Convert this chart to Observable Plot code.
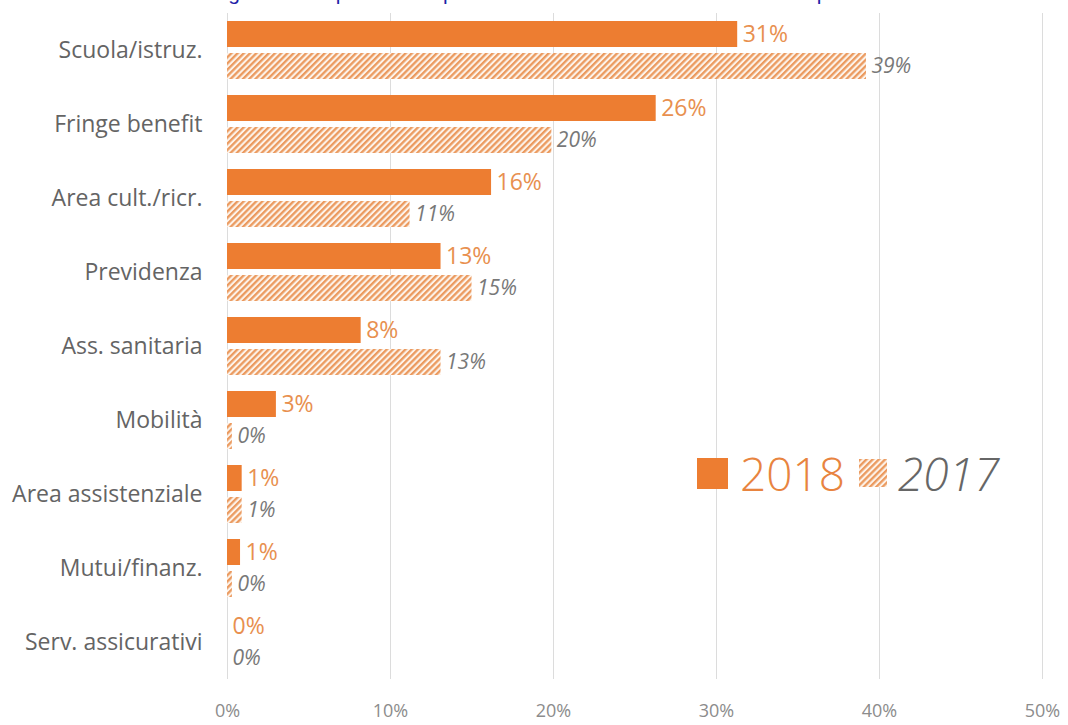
<!DOCTYPE html>
<html><head><meta charset="utf-8">
<script src="https://cdn.jsdelivr.net/npm/d3@7"></script>
<script src="https://cdn.jsdelivr.net/npm/@observablehq/plot@0.6"></script>
<style>
body{margin:0;background:#fff;}
#wrap{position:relative;width:1068px;height:725px;overflow:hidden;font-family:"Open Sans",sans-serif;}
#title{position:absolute;top:-19px;left:0;width:1080px;text-align:center;font:21px "Liberation Sans",Arial,sans-serif;color:#1f1fa8;white-space:nowrap;}
#legend{position:absolute;left:697px;top:440px;display:flex;align-items:center;height:66px;}
#legend .sw{display:inline-block;}
#legend .t18{font-size:46px;color:#e8843f;margin-left:12px;margin-right:14px;font-weight:300;}
#legend .t17{font-size:46px;color:#666;font-style:italic;margin-left:11px;font-weight:300;}
</style>
</head><body>
<div id="wrap">
  <div id="title">Figura 3 - Le prestazioni più richieste dai lavoratori secondo le imprese</div>
  <div id="chart"></div>
  <div id="legend">
    <svg class="sw" width="31" height="31"><rect width="31" height="31" fill="#ED7D31"/></svg>
    <span class="t18">2018</span>
    <svg class="sw" width="28" height="28"><defs><pattern id="hatchL" patternUnits="userSpaceOnUse" width="4.4" height="4.4" patternTransform="rotate(45)"><rect width="4.4" height="4.4" fill="#fdf3ea"/><rect width="2.3" height="4.4" fill="#eb9a5f"/></pattern></defs><rect width="28" height="28" fill="url(#hatchL)"/></svg>
    <span class="t17">2017</span>
  </div>
</div>
<script>
const categories = ["Scuola/istruz.", "Fringe benefit", "Area cult./ricr.", "Previdenza", "Ass. sanitaria", "Mobilità", "Area assistenziale", "Mutui/finanz.", "Serv. assicurativi"];
const values2018 = [31.3, 26.3, 16.2, 13.1, 8.2, 3.0, 0.9, 0.8, 0];
const values2017 = [39.2, 19.9, 11.2, 15.0, 13.1, 0.3, 0.9, 0.3, 0];
const years = ["2018", "2017"];
const xTicks = [0, 10, 20, 30, 40, 50];

const data = categories.flatMap((c, i) => [
  {cat: c, year: "2018", v: values2018[i]},
  {cat: c, year: "2017", v: values2017[i]}
]);

const chart = Plot.plot({
  width: 1068, height: 725,
  marginLeft: 227, marginRight: 26, marginTop: 10, marginBottom: 44,
  x: {domain: [0, 50]},
  y: {domain: years, axis: null, paddingInner: 0.18, paddingOuter: 0.22},
  fy: {domain: categories, padding: 0, label: null},
  style: {fontFamily: "'Open Sans', sans-serif", background: "transparent"},
  marks: [
    Plot.gridX({ticks: xTicks, stroke: "#dcdcdc", strokeOpacity: 1}),
    Plot.barX(data, {filter: d => d.year === "2018", fy: "cat", y: "year", x: "v", fill: "#ED7D31"}),
    Plot.barX(data, {filter: d => d.year === "2017", fy: "cat", y: "year", x: "v", fill: "url(#hatch)"}),
    Plot.text(data, {filter: d => d.year === "2018", fy: "cat", y: "year", x: "v", text: d => Math.round(d.v) + "%", dx: 5, textAnchor: "start", fill: "#e8904f", fontSize: 23}),
    Plot.text(data, {filter: d => d.year === "2017", fy: "cat", y: "year", x: "v", text: d => Math.round(d.v) + "%", dx: 5, textAnchor: "start", fill: "#787878", fontSize: 21, fontStyle: "italic"}),
    Plot.axisX({ticks: xTicks, tickFormat: d => d + "%", tickSize: 0, tickPadding: 25, fontSize: 18, fill: "#8c8c8c", label: null}),
    Plot.axisFy({anchor: "left", tickSize: 0, tickPadding: 25, fontSize: 23, fill: "#646464", label: null})
  ]
});

const ns = "http://www.w3.org/2000/svg";
const defs = document.createElementNS(ns, "defs");
defs.innerHTML = '<pattern id="hatch" patternUnits="userSpaceOnUse" width="4.4" height="4.4" patternTransform="rotate(45)"><rect width="4.4" height="4.4" fill="#fdf3ea"/><rect width="2.3" height="4.4" fill="#eb9a5f"/></pattern>';
chart.insertBefore(defs, chart.firstChild);
document.getElementById("chart").appendChild(chart);
</script>
</body></html>
